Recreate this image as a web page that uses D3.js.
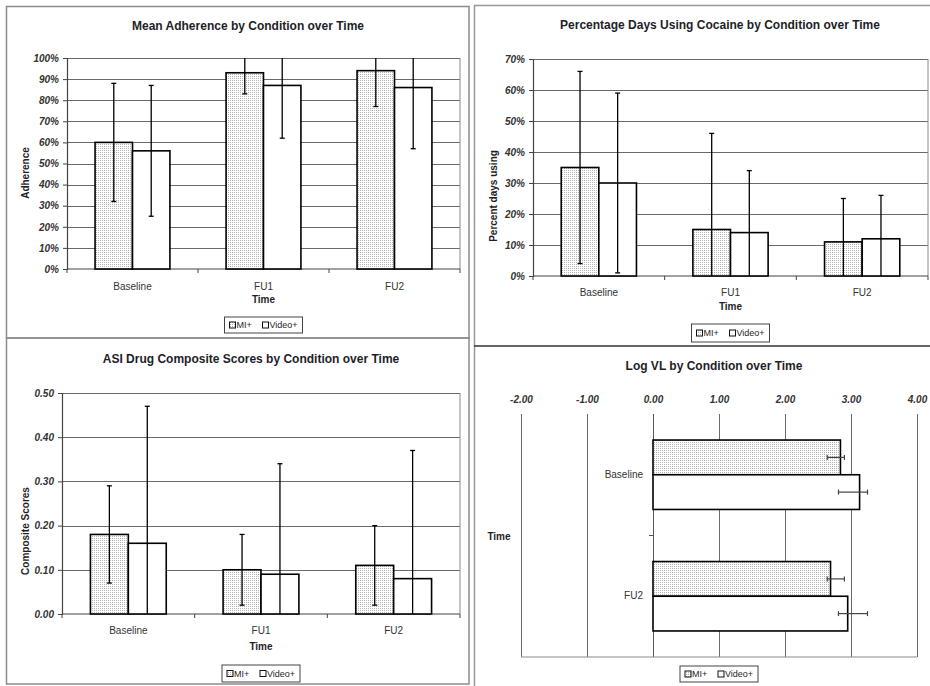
<!DOCTYPE html>
<html><head><meta charset="utf-8">
<script src="https://cdn.jsdelivr.net/npm/d3@7"></script>
<style>body{margin:0;background:#fff;}svg{display:block;font-family:"Liberation Sans",Arial,sans-serif;}</style>
</head><body>
<script>
// ---------- data ----------
const categories = ["Baseline", "FU1", "FU2"];
const seriesNames = ["MI+", "Video+"];

const adherenceMI = [60, 93, 94];
const adherenceVideo = [56, 87, 86];
const adherenceErrMI = [28, 10, 17];
const adherenceErrVideo = [31, 25, 29];
const adherenceTicks = [0, 10, 20, 30, 40, 50, 60, 70, 80, 90, 100];
const adherenceTickLabels = ["0%","10%","20%","30%","40%","50%","60%","70%","80%","90%","100%"];

const cocaineMI = [35, 15, 11];
const cocaineVideo = [30, 14, 12];
const cocaineErrMI = [31, 31, 14];
const cocaineErrVideo = [29, 20, 14];
const cocaineTicks = [0, 10, 20, 30, 40, 50, 60, 70];
const cocaineTickLabels = ["0%","10%","20%","30%","40%","50%","60%","70%"];

const asiMI = [0.18, 0.10, 0.11];
const asiVideo = [0.16, 0.09, 0.08];
const asiErrMI = [0.11, 0.08, 0.09];
const asiErrVideo = [0.31, 0.25, 0.29];
const asiTicks = [0, 0.1, 0.2, 0.3, 0.4, 0.5];
const asiTickLabels = ["0.00","0.10","0.20","0.30","0.40","0.50"];

const vlCategories = ["Baseline", "FU2"];
const vlMI = [2.84, 2.69];
const vlVideo = [3.13, 2.95];
const vlLowMI = [2.64, 2.64];
const vlHighMI = [2.90, 2.90];
const vlLowVideo = [2.81, 2.81];
const vlHighVideo = [3.25, 3.25];
const vlTicks = [-2, -1, 0, 1, 2, 3, 4];
const vlTickLabels = ["-2.00","-1.00","0.00","1.00","2.00","3.00","4.00"];

// ---------- drawing ----------
const TXT = "#1e1e28";
const svg = d3.select("body").append("svg").attr("width", 930).attr("height", 686);
const defs = svg.append("defs");
const pat = defs.append("pattern").attr("id", "dots").attr("width", 2).attr("height", 2)
  .attr("patternUnits", "userSpaceOnUse");
pat.append("rect").attr("width", 2).attr("height", 2).attr("fill", "#fff");
pat.append("rect").attr("width", 1).attr("height", 1).attr("fill", "#b4b4b4");

const fills = {"MI+": "url(#dots)", "Video+": "#fff"};

// panel borders
const borders = svg.append("g").attr("fill", "none");
borders.append("rect").attr("x", 6.5).attr("y", 6.5).attr("width", 462.5).attr("height", 331.5).attr("stroke", "#8c8c8c").attr("stroke-width", 1.5);
borders.append("rect").attr("x", 6.5).attr("y", 338).attr("width", 462.5).attr("height", 346).attr("stroke", "#8c8c8c").attr("stroke-width", 1.5);
borders.append("line").attr("x1", 474.5).attr("x2", 474.5).attr("y1", 5).attr("y2", 686).attr("stroke", "#999").attr("stroke-width", 1.5);
borders.append("line").attr("x1", 474).attr("x2", 930).attr("y1", 5.5).attr("y2", 5.5).attr("stroke", "#999").attr("stroke-width", 1.5);
borders.append("line").attr("x1", 474).attr("x2", 930).attr("y1", 346).attr("y2", 346).attr("stroke", "#333").attr("stroke-width", 1.5);

function legend(cx, y, w, h) {
  const g = svg.append("g");
  const x = cx - w / 2;
  g.append("rect").attr("x", x).attr("y", y).attr("width", w).attr("height", h)
    .attr("fill", "#fff").attr("stroke", "#444").attr("stroke-width", 1);
  const items = [{n: "MI+", dx: 5}, {n: "Video+", dx: 38}];
  items.forEach(it => {
    g.append("rect").attr("x", x + it.dx).attr("y", y + h / 2 - 3).attr("width", 6).attr("height", 6)
      .attr("fill", fills[it.n]).attr("stroke", "#111").attr("stroke-width", 1);
    g.append("text").attr("x", x + it.dx + 7).attr("y", y + h / 2 + 3.3).attr("font-size", 9)
      .attr("fill", TXT).text(it.n);
  });
}

function title(t, cx, y) {
  svg.append("text").attr("x", cx).attr("y", y).attr("text-anchor", "middle")
    .attr("font-size", 12).attr("font-weight", "bold").attr("fill", TXT).text(t);
}

function vbarChart(o) {
  const g = svg.append("g");
  const x0 = d3.scaleBand().domain(categories).range([o.left, o.right]);
  const x1 = d3.scaleBand().domain(seriesNames).range([0, x0.bandwidth()]).paddingOuter(0.75);
  const y = d3.scaleLinear().domain([0, o.max]).range([o.bottom, o.top]);

  title(o.title, o.titleX, o.titleY);

  // gridlines
  g.append("g").selectAll("line").data(o.ticks.slice(1)).join("line")
    .attr("x1", o.left).attr("x2", o.right)
    .attr("y1", d => Math.round(y(d)) + 0.5).attr("y2", d => Math.round(y(d)) + 0.5)
    .attr("stroke", "#6a6a6a").attr("stroke-width", 1);
  g.append("line").attr("x1", o.right).attr("x2", o.right).attr("y1", o.top).attr("y2", o.bottom)
    .attr("stroke", "#8a8a8a").attr("stroke-width", 1);

  // y axis
  const ya = g.append("g").attr("transform", `translate(${o.left},0)`)
    .call(d3.axisLeft(y).tickValues(o.ticks).tickFormat((d, i) => o.tickLabels[i]).tickSize(4).tickPadding(4));
  ya.select(".domain").attr("stroke", "#444").attr("stroke-width", 1.2);
  ya.selectAll(".tick line").attr("stroke", "#444");
  ya.selectAll("text").attr("font-size", 10).attr("font-weight", "bold").attr("font-style", "italic")
    .attr("fill", "#333").attr("font-family", "Liberation Sans, Arial, sans-serif");

  // x axis
  const xa = g.append("g").attr("transform", `translate(0,${o.bottom})`)
    .call(d3.axisBottom(x0).tickSize(0).tickPadding(o.catY - o.bottom - 7.1));
  xa.select(".domain").remove();
  xa.selectAll("text").attr("font-size", 10).attr("fill", "#333").attr("font-family", "Liberation Sans, Arial, sans-serif");
  g.append("line").attr("x1", o.left).attr("x2", o.right).attr("y1", o.bottom).attr("y2", o.bottom)
    .attr("stroke", "#444").attr("stroke-width", 1.2);
  const bounds = categories.map(c => x0(c)).concat([o.right]);
  g.append("g").selectAll("line").data(bounds).join("line")
    .attr("x1", d => d).attr("x2", d => d).attr("y1", o.bottom).attr("y2", o.bottom + 4)
    .attr("stroke", "#444");

  // bars
  const series = [
    {name: "MI+", vals: o.mi, err: o.errMI},
    {name: "Video+", vals: o.video, err: o.errVideo}
  ];
  series.forEach(s => {
    g.append("g").selectAll("rect").data(categories).join("rect")
      .attr("x", c => x0(c) + x1(s.name))
      .attr("y", (c, i) => y(s.vals[i]))
      .attr("width", x1.bandwidth())
      .attr("height", (c, i) => y(0) - y(s.vals[i]))
      .attr("fill", fills[s.name]).attr("stroke", "#000").attr("stroke-width", 1.6);
  });
  // error bars
  series.forEach(s => {
    const eg = g.append("g").attr("stroke", "#000").attr("stroke-width", 1.3);
    categories.forEach((c, i) => {
      const cx = x0(c) + x1(s.name) + x1.bandwidth() / 2;
      const lo = s.vals[i] - s.err[i], hi = s.vals[i] + s.err[i];
      const loC = Math.max(lo, 0), hiC = Math.min(hi, o.max);
      eg.append("line").attr("x1", cx).attr("x2", cx).attr("y1", y(loC)).attr("y2", y(hiC));
      if (lo >= 0) eg.append("line").attr("x1", cx - 2.5).attr("x2", cx + 2.5).attr("y1", y(lo)).attr("y2", y(lo));
      if (hi <= o.max) eg.append("line").attr("x1", cx - 2.5).attr("x2", cx + 2.5).attr("y1", y(hi)).attr("y2", y(hi));
    });
  });

  // axis titles
  svg.append("text").attr("x", (o.left + o.right) / 2).attr("y", o.timeY).attr("text-anchor", "middle")
    .attr("font-size", 10).attr("font-weight", "bold").attr("fill", TXT).text("Time");
  svg.append("text").attr("transform", `translate(${o.ylabelX},${o.ylabelY}) rotate(-90)`)
    .attr("text-anchor", "middle").attr("font-size", 10).attr("font-weight", "bold").attr("fill", TXT).text(o.ylabel);

  legend((o.left + o.right) / 2, o.legY, 78, o.legH);
}

vbarChart({
  title: "Mean Adherence by Condition over Time", titleX: 248, titleY: 30,
  left: 67, right: 460, top: 58, bottom: 269, max: 100,
  ticks: adherenceTicks, tickLabels: adherenceTickLabels,
  mi: adherenceMI, video: adherenceVideo, errMI: adherenceErrMI, errVideo: adherenceErrVideo,
  catY: 290, timeY: 303, ylabel: "Adherence", ylabelX: 29, ylabelY: 173, legY: 317, legH: 16
});

vbarChart({
  title: "Percentage Days Using Cocaine by Condition over Time", titleX: 720, titleY: 29,
  left: 533, right: 928, top: 59, bottom: 276, max: 70,
  ticks: cocaineTicks, tickLabels: cocaineTickLabels,
  mi: cocaineMI, video: cocaineVideo, errMI: cocaineErrMI, errVideo: cocaineErrVideo,
  catY: 296, timeY: 310, ylabel: "Percent days using", ylabelX: 497, ylabelY: 196, legY: 324, legH: 18
});

vbarChart({
  title: "ASI Drug Composite Scores by Condition over Time", titleX: 251, titleY: 363,
  left: 62, right: 460, top: 393, bottom: 614, max: 0.5,
  ticks: asiTicks, tickLabels: asiTickLabels,
  mi: asiMI, video: asiVideo, errMI: asiErrMI, errVideo: asiErrVideo,
  catY: 634, timeY: 650, ylabel: "Composite Scores", ylabelX: 29, ylabelY: 531, legY: 665, legH: 17
});

// ---------- horizontal Log VL chart ----------
(function () {
  const left = 521, right = 917, top = 414, bottom = 657;
  const g = svg.append("g");
  const x = d3.scaleLinear().domain([-2, 4]).range([left, right]);
  const y0 = d3.scaleBand().domain(vlCategories).range([top, bottom]);
  const y1 = d3.scaleBand().domain(seriesNames).range([0, y0.bandwidth()]).paddingOuter(0.75);

  title("Log VL by Condition over Time", 714, 370);

  // vertical gridlines
  g.append("g").selectAll("line").data(vlTicks).join("line")
    .attr("x1", d => Math.round(x(d)) + 0.5).attr("x2", d => Math.round(x(d)) + 0.5)
    .attr("y1", top).attr("y2", bottom)
    .attr("stroke", d => d === 0 ? "#555" : "#6a6a6a").attr("stroke-width", 1);
  g.append("line").attr("x1", left).attr("x2", right).attr("y1", bottom).attr("y2", bottom)
    .attr("stroke", "#8a8a8a").attr("stroke-width", 1);

  // top axis labels
  const xa = g.append("g").attr("transform", `translate(0,${top})`)
    .call(d3.axisTop(x).tickValues(vlTicks).tickFormat((d, i) => vlTickLabels[i]).tickSize(0).tickPadding(11));
  xa.select(".domain").remove();
  xa.selectAll("text").attr("font-size", 10).attr("font-weight", "bold").attr("font-style", "italic")
    .attr("fill", "#333").attr("font-family", "Liberation Sans, Arial, sans-serif");

  // category axis at x = 0
  const ya = g.append("g").attr("transform", `translate(${x(0)},0)`)
    .call(d3.axisLeft(y0).tickSize(0).tickPadding(10));
  ya.select(".domain").remove();
  ya.selectAll("text").attr("font-size", 10).attr("fill", "#333").attr("font-family", "Liberation Sans, Arial, sans-serif");
  g.append("line").attr("x1", x(0) - 4).attr("x2", x(0)).attr("y1", y0("FU2")).attr("y2", y0("FU2"))
    .attr("stroke", "#555");

  const series = [
    {name: "MI+", vals: vlMI, lo: vlLowMI, hi: vlHighMI},
    {name: "Video+", vals: vlVideo, lo: vlLowVideo, hi: vlHighVideo}
  ];
  series.forEach(s => {
    g.append("g").selectAll("rect").data(vlCategories).join("rect")
      .attr("x", x(0))
      .attr("y", c => y0(c) + y1(s.name))
      .attr("width", (c, i) => x(s.vals[i]) - x(0))
      .attr("height", y1.bandwidth())
      .attr("fill", fills[s.name]).attr("stroke", "#000").attr("stroke-width", 1.6);
  });
  series.forEach(s => {
    const eg = g.append("g").attr("stroke", "#444").attr("stroke-width", 1.2);
    vlCategories.forEach((c, i) => {
      const cy = y0(c) + y1(s.name) + y1.bandwidth() / 2;
      eg.append("line").attr("x1", x(s.lo[i])).attr("x2", x(s.hi[i])).attr("y1", cy).attr("y2", cy);
      [s.lo[i], s.hi[i]].forEach(v => eg.append("line").attr("x1", x(v)).attr("x2", x(v)).attr("y1", cy - 2.5).attr("y2", cy + 2.5));
    });
  });

  svg.append("text").attr("x", 499).attr("y", 540).attr("text-anchor", "middle")
    .attr("font-size", 10).attr("font-weight", "bold").attr("fill", TXT).text("Time");

  legend((left + right) / 2, 666, 78, 16);
})();
</script>
</body></html>
